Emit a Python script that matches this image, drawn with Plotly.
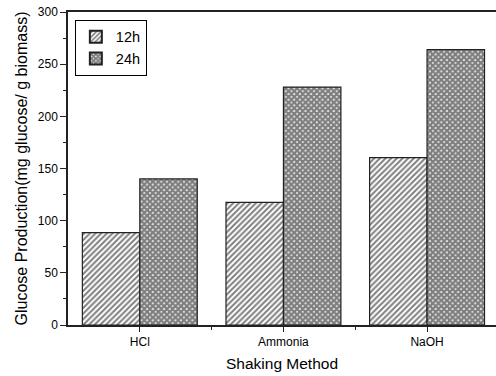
import plotly.graph_objects as go

categories = ["HCl", "Ammonia", "NaOH"]
series_names = ["12h", "24h"]
values_12h = [88.5, 117.5, 160.5]
values_24h = [140, 228, 264]

x_pos = [1, 2, 3]

fig = go.Figure()
fig.add_trace(go.Bar(
    x=x_pos, y=values_12h, name=series_names[0], width=0.4, offset=-0.4,
    marker=dict(color="white", line=dict(color="#222222", width=1.2),
                pattern=dict(shape="/", size=4, solidity=0.5, fgcolor="black", bgcolor="white")),
))
fig.add_trace(go.Bar(
    x=x_pos, y=values_24h, name=series_names[1], width=0.4, offset=0,
    marker=dict(color="white", line=dict(color="#222222", width=1.2),
                pattern=dict(shape="x", size=4, solidity=0.85, fgcolor="black", bgcolor="white")),
))

fig.update_layout(
    width=496, height=376,
    margin=dict(l=68, r=0, t=12, b=51),
    plot_bgcolor="white", paper_bgcolor="white",
    font=dict(family="Liberation Sans, Arial, sans-serif", color="black"),
    barmode="overlay",
    showlegend=True,
    legend=dict(x=0.016, y=0.975, xanchor="left", yanchor="top",
                bordercolor="black", borderwidth=1, bgcolor="white",
                font=dict(size=14.5), tracegroupgap=0, itemwidth=30,
                itemsizing="constant"),
    xaxis=dict(
        range=[0.5, 3.48], tickvals=x_pos, ticktext=categories,
        showgrid=False, zeroline=False,
        showline=True, linecolor="#222222", linewidth=1.5, mirror=True,
        ticks="outside", ticklen=5, tickcolor="#222222", tickwidth=1,
        tickfont=dict(size=12),
        minor=dict(tickvals=[1.5, 2.5], ticks="outside", ticklen=3, tickcolor="#222222"),
        title=dict(text="Shaking Method", font=dict(size=15.5), standoff=10),
    ),
    yaxis=dict(
        range=[0, 300], tickvals=[0, 50, 100, 150, 200, 250, 300],
        showgrid=False, zeroline=False,
        showline=True, linecolor="#222222", linewidth=1.5,
        ticks="outside", ticklen=6, tickcolor="#222222", tickwidth=1,
        tickfont=dict(size=12),
        minor=dict(dtick=25, ticks="outside", ticklen=3, tickcolor="#222222"),
        title=dict(text="Glucose Production(mg glucose/ g biomass)", font=dict(size=16), standoff=6),
    ),
)

fig.write_html("out.html")
